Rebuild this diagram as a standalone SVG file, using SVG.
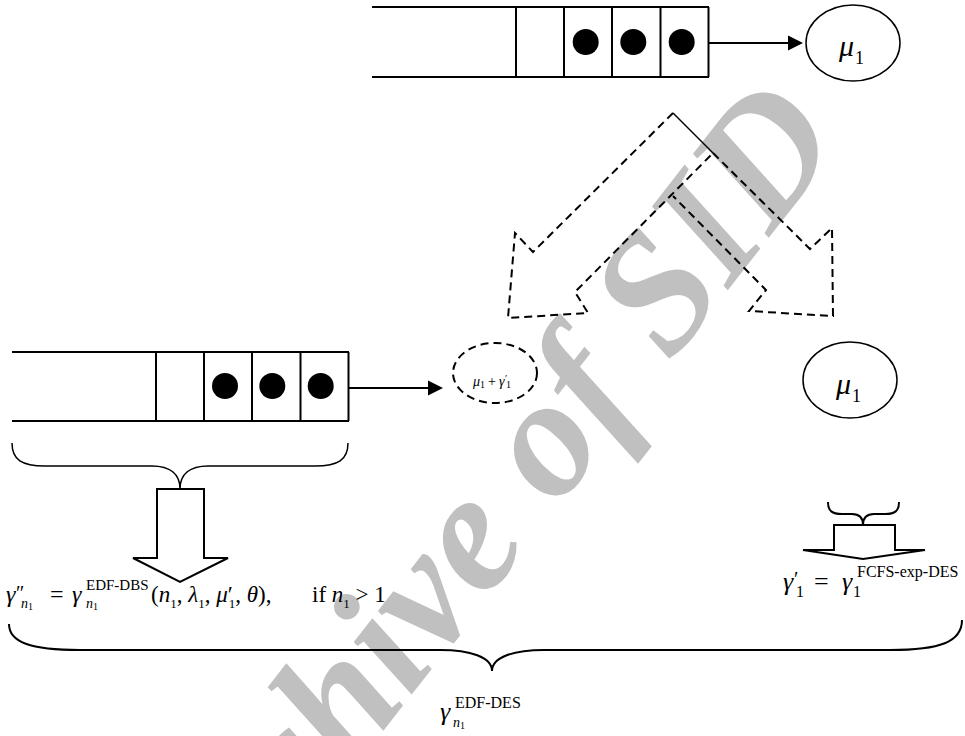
<svg xmlns="http://www.w3.org/2000/svg" width="965" height="736" viewBox="0 0 965 736">
<style>
.ln{stroke:#000;stroke-width:2;fill:none}
.th{stroke:#000;stroke-width:1.5;fill:none}
.dash{stroke:#000;stroke-width:2;fill:none;stroke-dasharray:8 5}
.dot{fill:#000}
.t{font-family:"Liberation Serif","Times New Roman",serif;fill:#000}
.i{font-style:italic}
.wm{font-family:"Liberation Serif","Times New Roman",serif;font-style:italic;font-weight:bold;fill:#c0c0c0}
</style>
<rect width="965" height="736" fill="#fff"/>
<g id="watermark">
<text class="wm" x="0" y="0" transform="translate(845,140) rotate(-52)" text-anchor="end" font-size="170">Archive of SID</text>
</g>
<g id="queue1">
<path class="ln" d="M372,7H709M372,77H709M516,7V77M564,7V77M612,7V77M660.5,7V77M708.5,7V77"/>
<circle class="dot" cx="585.7" cy="42" r="13"/>
<circle class="dot" cx="633.3" cy="42" r="13"/>
<circle class="dot" cx="681.7" cy="42" r="13"/>
</g>
<g id="server1">
<ellipse class="th" cx="853" cy="43" rx="47" ry="38"/>
<text class="t i" x="839" y="56" font-size="30">μ</text>
<text class="t" x="855" y="64" font-size="18">1</text>
</g>
<g id="split-arrows">
<path class="dash" d="M673,113L533,252L515,233L508,318L588,313L575,292L713,153"/>
<path class="th" d="M673,113L713,153" stroke-width="1"/>
<path class="dash" d="M713,153L810,249L832,228L833,316L749,311L766,290L673,196"/>
</g>
<g id="queue2">
<path class="ln" d="M12,352H349M12,421H349M156,352V421M204,352V421M252,352V421M300.5,352V421M348.5,352V421"/>
<circle class="dot" cx="225" cy="386" r="13"/>
<circle class="dot" cx="272.3" cy="386" r="13"/>
<circle class="dot" cx="320.7" cy="386" r="13"/>
</g>
<g id="server-combined">
<ellipse class="dash" cx="495" cy="373" rx="42" ry="30" stroke-dasharray="7 4"/>
<text class="t i" x="473" y="386" font-size="14">μ</text>
<text class="t" x="480" y="388" font-size="10">1</text>
<text class="t" x="488" y="386" font-size="14">+</text>
<text class="t i" x="499" y="386" font-size="14">γ</text>
<text class="t" x="505" y="382" font-size="10">′</text>
<text class="t" x="506" y="388" font-size="10">1</text>
</g>
<g id="server2">
<ellipse class="th" cx="850" cy="380" rx="47" ry="38"/>
<text class="t i" x="836" y="394" font-size="30">μ</text>
<text class="t" x="852" y="402" font-size="18">1</text>
</g>
<g id="connectors">
<path class="ln" d="M709,43H790"/>
<polygon class="dot" points="788,35.5 803,43 788,50.5"/>
<path class="ln" d="M349,388H429"/>
<polygon class="dot" points="428,380.5 443,388 428,395.5"/>
<path class="th" d="M12,443C12,460 22,466 45,466L152,466C170,466 180,474 180,489C180,474 190,466 208,466L315,466C338,466 348,460 348,443"/>
<polygon class="ln" points="157,489 204,489 204,558 228,558 180,582 133,558 157,558"/>
<path class="ln" d="M828,502C828,511 832,514 842,514L852,514C859,514 863,518 863,525C863,518 867,514 874,514L885,514C895,514 899,511 899,502"/>
<polygon class="ln" points="834,525 895,525 895,550 925,550 863,559 803,550 834,550"/>
<path class="ln" d="M9,624C9,642 30,650 80,650L440,650C470,650 492,657 492,671C492,657 514,650 544,650L890,650C940,650 962,642 962,620"/>
</g>
<g id="formula-left">
<text class="t i" x="6" y="602" font-size="24">γ</text>
<text class="t" x="16" y="600" font-size="20">″</text>
<text class="t i" x="21" y="608" font-size="14">n</text>
<text class="t" x="28" y="610" font-size="10">1</text>
<text class="t" x="50" y="602" font-size="24">=</text>
<text class="t i" x="72" y="602" font-size="24">γ</text>
<text class="t" x="86" y="590" font-size="15">EDF-DBS</text>
<text class="t i" x="86" y="608" font-size="14">n</text>
<text class="t" x="93" y="610" font-size="10">1</text>
<text class="t" x="151" y="602" font-size="23">(<tspan class="i">n</tspan><tspan font-size="13" dy="6">1</tspan><tspan dy="-6">, </tspan><tspan class="i">λ</tspan><tspan font-size="13" dy="6">1</tspan><tspan dy="-6">, </tspan><tspan class="i">μ</tspan><tspan>′</tspan><tspan font-size="13" dy="6" dx="-4">1</tspan><tspan dy="-6">, </tspan><tspan class="i">θ</tspan>),</text>
<text class="t" x="312" y="602" font-size="23">if <tspan class="i">n</tspan><tspan font-size="13" dy="6">1</tspan><tspan dy="-6"> &gt; 1</tspan></text>
</g>
<g id="formula-right">
<text class="t i" x="783" y="590" font-size="26">γ</text>
<text class="t" x="794" y="586" font-size="20">′</text>
<text class="t" x="796" y="597" font-size="16">1</text>
<text class="t" x="814" y="590" font-size="26">=</text>
<text class="t i" x="842" y="590" font-size="26">γ</text>
<text class="t" x="853" y="597" font-size="16">1</text>
<text class="t" x="857" y="577" font-size="16">FCFS-exp-DES</text>
</g>
<g id="formula-bottom">
<text class="t i" x="440" y="720" font-size="26">γ</text>
<text class="t" x="455" y="708" font-size="16">EDF-DES</text>
<text class="t i" x="453" y="727" font-size="14">n</text>
<text class="t" x="460" y="729" font-size="10">1</text>
</g>
</svg>
